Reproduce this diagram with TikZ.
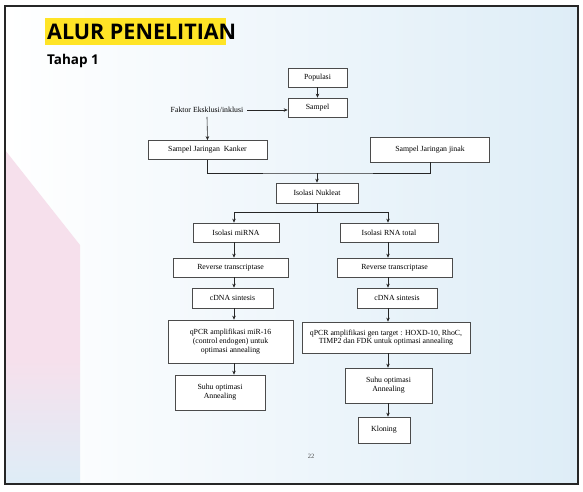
\documentclass[tikz,border=0pt]{standalone}
\usepackage{fontspec}
\setmainfont{Liberation Serif}
\newfontfamily\titlefont{Open Sans}
\usetikzlibrary{arrows.meta, positioning, calc}
\definecolor{slideblue}{RGB}{222,237,247}
\definecolor{slidepink}{RGB}{246,224,236}
\definecolor{markyellow}{RGB}{255,228,38}
\definecolor{boxline}{RGB}{75,75,75}

\tikzset{
  flowbox/.style={draw=boxline, line width=0.7pt, fill=white, align=center,
    inner sep=1pt, font=\fontsize{7.8}{8.8}\selectfont},
  flowarrow/.style={line width=0.6pt, draw=black!85, -{Stealth[length=4pt,width=3.5pt]}},
  flowline/.style={line width=0.6pt, draw=black!85}
}

\begin{document}
\begin{tikzpicture}[x=1pt, y=-1pt]
  \useasboundingbox (0,0) rectangle (583,491);

  % Slide background
  \fill[white] (0,0) rectangle (583,491);
  \shade[left color=white, right color=slideblue] (5,6) rectangle (578,484);
  \fill[slidepink] (5,150) -- (80,245) -- (80,360) -- (5,360) -- cycle;
  \shade[top color=slidepink, bottom color=slideblue] (5,360) rectangle (80,484);
  \draw[line width=2pt, black!85] (5,6) rectangle (578,484);

  % Title
  \fill[markyellow] (45,18) rectangle (226,45);
  \node[anchor=west, inner sep=0pt, font=\titlefont\bfseries\fontsize{21.5}{24}\selectfont]
    (title) at (47,32) {ALUR PENELITIAN};
  \node[anchor=west, inner sep=0pt, font=\titlefont\bfseries\fontsize{13.5}{16}\selectfont]
    (tahap) at (47,61) {Tahap 1};

  % Column lines
  \coordinate (leftcol) at (234,0);
  \coordinate (rightcol) at (388,0);

  % Top part
  \node[flowbox, minimum width=59pt, minimum height=19pt] (populasi) at (317.5,77.5) {Populasi};
  \node[flowbox, minimum width=59pt, minimum height=19pt] (sampel) at (317.5,107.5) {Sampel};
  \node[inner sep=4pt, font=\fontsize{7.8}{8.8}\selectfont] (faktor) at (207,110) {Faktor Eksklusi/inklusi};
  \node[flowbox, minimum width=119pt, minimum height=19pt] (kanker) at (207.5,150) {Sampel Jaringan\ \ Kanker};
  \node[flowbox, minimum width=119pt, minimum height=25pt] (jinak) at (430,149.5) {Sampel Jaringan jinak};
  \node[flowbox, minimum width=82pt, minimum height=20pt] (nukleat) at (317,193) {Isolasi Nukleat};

  % Left branch
  \node[flowbox, minimum width=86pt, minimum height=19pt] (mirna) at (236,232.5) {Isolasi miRNA};
  \node[flowbox, minimum width=115pt, minimum height=19pt] (rtleft) at (230.5,267.5) {Reverse transcriptase};
  \node[flowbox, minimum width=81pt, minimum height=20pt] (cdnaleft) at (232.5,298) {cDNA sintesis};
  \node[flowbox, minimum width=125pt, minimum height=43pt] (qpcrleft) at (230.5,341.5)
    {qPCR amplifikasi miR-16\\(control endogen) untuk\\optimasi annealing};
  \node[flowbox, minimum width=90pt, minimum height=35pt] (suhuleft) at (220,392.5) {Suhu optimasi\\Annealing};

  % Right branch
  \node[flowbox, minimum width=98pt, minimum height=19pt] (rnatotal) at (389,232.5) {Isolasi RNA total};
  \node[flowbox, minimum width=115pt, minimum height=19pt] (rtright) at (394.5,267.5) {Reverse transcriptase};
  \node[flowbox, minimum width=80pt, minimum height=20pt] (cdnaright) at (397,298) {cDNA sintesis};
  \node[flowbox, minimum width=168pt, minimum height=31pt] (qpcrright) at (386,337.5)
    {qPCR amplifikasi gen target : HOXD-10, RhoC,\\TIMP2 dan FDK untuk optimasi annealing};
  \node[flowbox, minimum width=87pt, minimum height=35pt] (suhuright) at (388.5,385.5) {Suhu optimasi\\Annealing};
  \node[flowbox, minimum width=52pt, minimum height=26pt] (kloning) at (384,430) {Kloning};

  % Page number
  \node[font=\fontsize{6.5}{7.5}\selectfont, text=black!70] (pagenum) at (311,456) {22};

  % Connectors
  \draw[flowarrow] (populasi) -- (sampel);
  \draw[flowarrow] (faktor.east) -- (faktor.east -| sampel.west);
  \draw[flowarrow] (faktor.south) -- (kanker.north);

  \coordinate (merge) at (317,173);
  \draw[flowline] (kanker.south) |- (merge) -| (jinak.south);
  \draw[flowarrow] (merge) -- (nukleat.north);

  \coordinate (split) at (317,212);
  \draw[flowline] (nukleat.south) -- (split);
  \draw[flowarrow] (split) -| (mirna.north -| leftcol);
  \draw[flowarrow] (split) -| (rnatotal.north -| rightcol);

  \draw[flowarrow] (mirna.south -| leftcol) -- (rtleft.north -| leftcol);
  \draw[flowarrow] (rtleft.south -| leftcol) -- (cdnaleft.north -| leftcol);
  \draw[flowarrow] (cdnaleft.south -| leftcol) -- (qpcrleft.north -| leftcol);
  \draw[flowarrow] (qpcrleft.south -| leftcol) -- (suhuleft.north -| leftcol);

  \draw[flowarrow] (rnatotal.south -| rightcol) -- (rtright.north -| rightcol);
  \draw[flowarrow] (rtright.south -| rightcol) -- (cdnaright.north -| rightcol);
  \draw[flowarrow] (cdnaright.south -| rightcol) -- (qpcrright.north -| rightcol);
  \draw[flowarrow] (qpcrright.south -| rightcol) -- (suhuright.north -| rightcol);
  \draw[flowarrow] (suhuright.south -| rightcol) -- (kloning.north -| rightcol);
\end{tikzpicture}
\end{document}
